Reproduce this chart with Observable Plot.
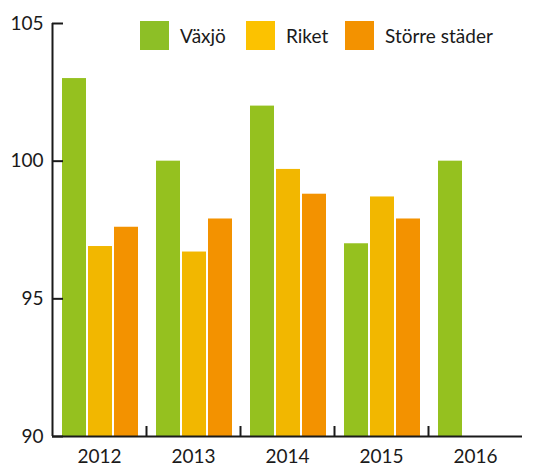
<!DOCTYPE html>
<html>
<head>
<meta charset="utf-8">
<script src="https://cdn.jsdelivr.net/npm/d3@7"></script>
<script src="https://cdn.jsdelivr.net/npm/@observablehq/plot@0.6"></script>
<style>
  html, body { margin: 0; padding: 0; background: #fff; }
  #wrap { position: relative; width: 536px; height: 465px; font-family: Lato, "Noto Sans", sans-serif; color: #1a1a1a; }
  .leg { position: absolute; top: 21px; display: flex; align-items: center; font-size: 19px; height: 29px; }
  .sw { width: 29px; height: 29px; margin-right: 11px; }
</style>
</head>
<body>
<div id="wrap"></div>
<script>
const years = [2012, 2013, 2014, 2015, 2016];
const seriesNames = ["Växjö", "Riket", "Större städer"];
const vaxjo  = [103.0, 100.0, 102.0, 97.0, 100.0];
const riket  = [96.9, 96.7, 99.7, 98.7, null];
const storre = [97.6, 97.9, 98.8, 97.9, null];
const yTicks = [90, 95, 100, 105];

const barColors = ["#95c11f", "#f2b700", "#f39200"];
const legendColors = ["#8dbf26", "#fcc200", "#f39200"];
const values = [vaxjo, riket, storre];

const data = years.flatMap((year, i) =>
  seriesNames.map((s, k) => ({year, series: s, value: values[k][i]}))
).filter(d => d.value != null);

const W = 536, H = 465, mT = 23, mB = 29, mL = 52, mR = 14;
const pxPerY = (H - mT - mB) / (yTicks[yTicks.length - 1] - yTicks[0]);
const pxPerX = (W - mL - mR) / years.length;
const x0 = years[0] - 0.5, x1 = years[years.length - 1] + 0.5;
const boundaries = years.slice(1).map(y => y - 0.5);
const ink = "#1a1a1a";

const insets = [[10, 60], [36, 34], [62, 8]];

const chart = Plot.plot({
  width: W, height: H,
  marginTop: mT, marginBottom: mB, marginLeft: mL, marginRight: mR,
  style: {fontFamily: "Lato, 'Noto Sans', sans-serif", fontSize: "19px", color: ink, background: "#fff"},
  x: {domain: [x0, x1], axis: null},
  y: {domain: [yTicks[0], yTicks[yTicks.length - 1]], axis: null},
  marks: [
    ...seriesNames.map((s, k) => Plot.rectY(data.filter(d => d.series === s), {
      x1: d => d.year - 0.5, x2: d => d.year + 0.5,
      y1: yTicks[0], y2: "value",
      fill: barColors[k], insetLeft: insets[k][0], insetRight: insets[k][1]
    })),
    Plot.ruleX([x0], {y1: yTicks[0], y2: yTicks[yTicks.length - 1], stroke: ink, strokeWidth: 2}),
    Plot.ruleY([yTicks[0]], {x1: x0, x2: x1, stroke: ink, strokeWidth: 2}),
    Plot.ruleX(boundaries, {x: d => d, y1: yTicks[0], y2: yTicks[0] + 10 / pxPerY, stroke: ink, strokeWidth: 2}),
    Plot.ruleY(yTicks, {y: d => d, x1: x0, x2: x0 + 11 / pxPerX, stroke: ink, strokeWidth: 2}),
    Plot.axisY({ticks: yTicks, tickSize: 0, tickPadding: 9, fontSize: 19, label: null, tickFormat: d => String(d)}),
    Plot.axisX({ticks: years, tickSize: 0, tickPadding: 13, fontSize: 19, label: null, tickFormat: d => String(d)})
  ]
});

const wrap = document.getElementById("wrap");
wrap.appendChild(chart);

const legLeft = [140, 246, 345];
seriesNames.forEach((s, k) => {
  const item = document.createElement("div");
  item.className = "leg";
  item.style.left = legLeft[k] + "px";
  const sw = document.createElement("div");
  sw.className = "sw";
  sw.style.background = legendColors[k];
  const t = document.createElement("span");
  t.textContent = s;
  item.appendChild(sw);
  item.appendChild(t);
  wrap.appendChild(item);
});
</script>
</body>
</html>
